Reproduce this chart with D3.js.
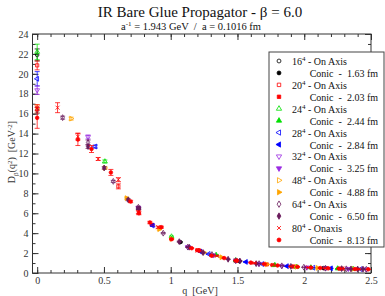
<!DOCTYPE html>
<html>
<head>
<meta charset="utf-8">
<script src="https://cdn.jsdelivr.net/npm/d3@7"></script>
<style>
  body { margin: 0; background: #fff; }
  svg { font-family: 'Liberation Serif', 'Times New Roman', serif; }
  .pre { white-space: pre; }
</style>
</head>
<body>
<svg id="chart"></svg>
<script>
// [q (GeV), D(q^2) (GeV^-2), error]
const L16axis  = [[0, 21.9, 0.6], [0.758, 6.5, 0.12], [1.487, 1.24, 0.03], [2.159, 0.48, 0.01]];
const L16conic = [[1.072, 3.1, 0.06], [1.516, 1.18, 0.03], [2.144, 0.49, 0.01]];
const L20axis  = [[0, 20.85, 0.45], [0.608, 8.7, 0.25], [1.201, 2.3, 0.05], [1.764, 0.8, 0.02], [2.284, 0.44, 0.01]];
const L20conic = [[0.86, 4.85, 0.1], [1.216, 2.25, 0.05], [1.49, 1.24, 0.03], [1.72, 0.86, 0.02], [1.92, 0.65, 0.01]];
const L24axis  = [[0, 22.2, 0.78], [0.507, 11.2, 0.15], [1.006, 3.66, 0.06], [1.487, 1.27, 0.02], [1.943, 0.62, 0.01], [2.366, 0.41, 0.01]];
const L24conic = [[1.34, 1.81, 0.03], [1.78, 0.79, 0.02], [2.05, 0.55, 0.01], [2.25, 0.45, 0.01]];
const L28axis  = [[0, 19.5, 0.72], [0.435, 12.7, 0.15], [0.865, 4.76, 0.08], [1.284, 1.91, 0.03], [1.686, 0.9, 0.02], [2.068, 0.53, 0.01], [2.423, 0.39, 0.01]];
const L28conic = [[1.223, 2.15, 0.04], [1.563, 1.11, 0.02], [1.87, 0.69, 0.01], [2.2, 0.47, 0.01]];
const L32axis  = [[0, 18.36, 0.43], [0.381, 13.66, 0.2], [0.758, 6.55, 0.1], [1.128, 2.62, 0.04], [1.487, 1.25, 0.02], [1.832, 0.72, 0.01], [2.159, 0.48, 0.01], [2.465, 0.37, 0.01]];
const L32conic = [[1.32, 1.78, 0.03], [1.66, 0.93, 0.02], [2.02, 0.56, 0.01], [2.33, 0.42, 0.01]];
const L48axis  = [[0, 16.48, 0.4], [0.254, 15.5, 0.15], [0.507, 10.55, 0.15], [1.006, 3.42, 0.06], [1.249, 2.05, 0.04], [1.719, 0.87, 0.02], [1.943, 0.62, 0.01], [2.366, 0.41, 0.01]];
const L48conic = [[0.67, 7.52, 0.1], [0.914, 4.4, 0.08], [1.38, 1.58, 0.03], [2.1, 0.51, 0.01]];
const L64axis  = [[0, 16.35, 0.3], [0.1907, 15.6, 0.15], [0.381, 13.1, 0.25], [0.570, 9.2, 0.1], [0.758, 6.6, 0.1], [0.944, 4.0, 0.06], [1.128, 2.6, 0.04], [1.309, 1.85, 0.03], [1.487, 1.24, 0.02], [1.662, 0.94, 0.02], [1.832, 0.72, 0.01], [1.997, 0.58, 0.01], [2.159, 0.48, 0.01], [2.315, 0.42, 0.01], [2.465, 0.37, 0.01]];
const L64conic = [[0.381, 12.7, 0.2], [0.502, 10.55, 0.12], [0.682, 7.35, 0.1], [0.762, 6.45, 0.1], [1.064, 3.15, 0.05], [1.139, 2.59, 0.04], [1.243, 2.05, 0.03], [1.43, 1.38, 0.02], [1.518, 1.21, 0.02], [1.64, 0.94, 0.02], [1.9, 0.66, 0.01], [2.28, 0.44, 0.01], [2.35, 0.41, 0.01], [2.4, 0.4, 0.01], [2.44, 0.39, 0.01]];
const L80axis  = [[0, 16.6, 0.3], [0.1526, 16.6, 0.5], [0.305, 13.7, 0.35], [0.457, 11.45, 0.15], [0.608, 9.37, 0.2], [0.758, 6.1, 0.15], [0.906, 4.6, 0.1], [1.201, 2.25, 0.04], [1.345, 1.72, 0.03], [1.487, 1.24, 0.02], [1.627, 1.0, 0.02], [1.764, 0.8, 0.01], [1.899, 0.66, 0.01], [2.031, 0.55, 0.01], [2.16, 0.48, 0.01], [2.285, 0.44, 0.01], [2.407, 0.39, 0.01]];
const L80conic = [[0, 15.58, 1.05], [0.305, 13.4, 0.6], [0.407, 12.45, 0.35], [0.552, 10.1, 0.3], [0.70, 7.18, 0.12], [0.762, 6.0, 0.15], [0.844, 5.07, 0.12], [0.93, 4.6, 0.1], [1.006, 3.39, 0.06], [1.157, 2.49, 0.05], [1.213, 2.25, 0.04], [1.306, 1.74, 0.03], [1.40, 1.5, 0.03], [1.494, 1.24, 0.02], [1.6, 1.04, 0.02], [1.7, 0.9, 0.02], [1.8, 0.76, 0.01], [1.95, 0.62, 0.01], [2.05, 0.54, 0.01], [2.12, 0.5, 0.01], [2.18, 0.47, 0.01], [2.26, 0.44, 0.01], [2.38, 0.4, 0.01], [2.48, 0.37, 0.01]];

const lattices = ['16', '20', '24', '28', '32', '48', '64', '80'];
const sizes = ['1.63', '2.03', '2.44', '2.84', '3.25', '4.88', '6.50', '8.13'];
const axisData = [L16axis, L20axis, L24axis, L28axis, L32axis, L48axis, L64axis, L80axis];
const conicData = [L16conic, L20conic, L24conic, L28conic, L32conic, L48conic, L64conic, L80conic];
const colors = ['#000000', '#ff0000', '#00e000', '#0000ff', '#9a2be2', '#ffa500', '#6a1b5c', '#ff0000'];
const shapes = ['circle', 'square', 'up', 'left', 'down', 'right', 'diamond', 'times'];

const xTicks = [0, 0.5, 1, 1.5, 2, 2.5];
const yTicks = [0, 2, 4, 6, 8, 10, 12, 14, 16, 18, 20, 22, 24];

const width = 385, height = 296;
const svg = d3.select('#chart').attr('width', width).attr('height', height);

const x = d3.scaleLinear().domain([-0.035, 2.5]).range([32.5, 371]);
const y = d3.scaleLinear().domain([0, 24]).range([273, 34]);

function symPath(shape, size) {
  let type = d3.symbolCircle, rot = 0;
  if (shape === 'square') type = d3.symbolSquare;
  if (shape === 'up') type = d3.symbolTriangle;
  if (shape === 'left') { type = d3.symbolTriangle; rot = -90; }
  if (shape === 'down') { type = d3.symbolTriangle; rot = 180; }
  if (shape === 'right') { type = d3.symbolTriangle; rot = 90; }
  if (shape === 'diamond') type = d3.symbolDiamond;
  if (shape === 'times') type = d3.symbolTimes;
  return { d: d3.symbol().type(type).size(size)(), rot: rot };
}

// axes (ticks inward on all four sides)
const axisColor = '#333';
const xMinor = d3.range(0, 2.501, 0.1).map(v => +v.toFixed(2));
const yMinor = d3.range(0, 24.01, 1);

function styleAxis(g) {
  g.select('.domain').remove();
  g.selectAll('line').attr('stroke', axisColor);
  g.selectAll('text').attr('fill', axisColor).attr('font-size', 10)
    .attr('font-family', "'Liberation Serif', serif");
}

svg.append('g').attr('transform', 'translate(0,273)')
  .call(d3.axisBottom(x).tickValues(xMinor).tickSize(-3).tickFormat(''))
  .call(styleAxis);
svg.append('g').attr('transform', 'translate(0,273)')
  .call(d3.axisBottom(x).tickValues(xTicks).tickSize(-6).tickPadding(4).tickFormat(d3.format('')))
  .call(styleAxis);
svg.append('g').attr('transform', 'translate(0,34)')
  .call(d3.axisTop(x).tickValues(xMinor).tickSize(-3).tickFormat(''))
  .call(styleAxis);
svg.append('g').attr('transform', 'translate(0,34)')
  .call(d3.axisTop(x).tickValues(xTicks).tickSize(-6).tickFormat(''))
  .call(styleAxis);
svg.append('g').attr('transform', 'translate(32.5,0)')
  .call(d3.axisLeft(y).tickValues(yMinor).tickSize(-3).tickFormat(''))
  .call(styleAxis);
svg.append('g').attr('transform', 'translate(32.5,0)')
  .call(d3.axisLeft(y).tickValues(yTicks).tickSize(-6).tickPadding(4).tickFormat(d3.format('')))
  .call(styleAxis);
svg.append('g').attr('transform', 'translate(371,0)')
  .call(d3.axisRight(y).tickValues(yMinor).tickSize(-3).tickFormat(''))
  .call(styleAxis);
svg.append('g').attr('transform', 'translate(371,0)')
  .call(d3.axisRight(y).tickValues(yTicks).tickSize(-6).tickFormat(''))
  .call(styleAxis);

svg.append('rect')
  .attr('x', 32.5).attr('y', 34).attr('width', 371 - 32.5).attr('height', 273 - 34)
  .attr('fill', 'none').attr('stroke', axisColor).attr('stroke-width', 1);

// data
const plot = svg.append('g');
function drawSeries(data, color, shape, open) {
  let g = plot.append('g');
  let sym = symPath(shape, shape === 'times' ? 12 : 10);
  g.selectAll('.err').data(data).enter().append('path')
    .attr('d', d => {
      let px = x(d[0]), y1 = y(d[1] + d[2]), y2 = y(d[1] - d[2]);
      return `M${px - 2.5},${y1}H${px + 2.5}M${px},${y1}V${y2}M${px - 2.5},${y2}H${px + 2.5}`;
    })
    .attr('stroke', color).attr('stroke-opacity', 0.75).attr('stroke-width', 1).attr('fill', 'none');
  g.selectAll('.pt').data(data).enter().append('path')
    .attr('d', sym.d)
    .attr('transform', d => `translate(${x(d[0])},${y(d[1])}) rotate(${sym.rot})`)
    .attr('fill', open && shape !== 'times' ? 'none' : color)
    .attr('stroke', color).attr('stroke-width', 0.8);
}
lattices.forEach((l, i) => {
  drawSeries(axisData[i], colors[i], shapes[i], true);
  drawSeries(conicData[i], colors[i], i === 7 ? 'circle' : shapes[i], false);
});

// titles
svg.append('text').attr('x', 200).attr('y', 17).attr('text-anchor', 'middle')
  .attr('font-size', 15).attr('fill', '#111').text('IR Bare Glue Propagator - β = 6.0');
let sub = svg.append('text').attr('class', 'pre').attr('x', 191).attr('y', 29.5).attr('text-anchor', 'middle')
  .attr('font-size', 10.5).attr('fill', '#111');
sub.append('tspan').text('a');
sub.append('tspan').attr('dy', -4).attr('font-size', 7).text('-1');
sub.append('tspan').attr('dy', 4).text(' = 1.943 GeV  /  a = 0.1016 fm');

svg.append('text').attr('class', 'pre').attr('x', 200).attr('y', 294).attr('text-anchor', 'middle')
  .attr('font-size', 10).attr('fill', axisColor).text('q  [GeV]');

let yl = svg.append('text').attr('class', 'pre').attr('transform', 'translate(15,152) rotate(-90)')
  .attr('text-anchor', 'middle').attr('font-size', 10).attr('fill', axisColor);
yl.append('tspan').text('D');
yl.append('tspan').attr('dy', 2.5).attr('font-size', 7).text('β');
yl.append('tspan').attr('dy', -2.5).text('(q');
yl.append('tspan').attr('dy', -3.5).attr('font-size', 7).text('2');
yl.append('tspan').attr('dy', 3.5).text(')  [GeV');
yl.append('tspan').attr('dy', -3.5).attr('font-size', 7).text('-2');
yl.append('tspan').attr('dy', 3.5).text(']');

// legend
const leg = svg.append('g');
leg.append('rect').attr('x', 269).attr('y', 52).attr('width', 115).attr('height', 195)
  .attr('fill', '#fff').attr('stroke', '#444').attr('stroke-width', 1);
const y0 = 61, step = 11.93;
lattices.forEach((l, i) => {
  let ya = y0 + step * 2 * i, yc = ya + step;
  let sa = symPath(shapes[i], 12);
  leg.append('path').attr('d', sa.d)
    .attr('transform', `translate(279,${ya}) rotate(${sa.rot})`)
    .attr('fill', shapes[i] === 'times' ? colors[i] : 'none')
    .attr('stroke', colors[i]).attr('stroke-width', 0.8);
  let sc = symPath(i === 7 ? 'circle' : shapes[i], 12);
  leg.append('path').attr('d', sc.d)
    .attr('transform', `translate(279,${yc}) rotate(${sc.rot})`)
    .attr('fill', colors[i]).attr('stroke', colors[i]).attr('stroke-width', 0.8);
  let t = leg.append('text').attr('class', 'pre').attr('x', 292).attr('y', ya + 4)
    .attr('font-size', 10).attr('fill', '#111');
  t.append('tspan').text(l);
  t.append('tspan').attr('dy', -4).attr('font-size', 7).text('4');
  t.append('tspan').attr('dy', 4).text(i === 7 ? ' - Onaxis' : ' - On Axis');
  leg.append('text').attr('class', 'pre').attr('x', 378).attr('y', yc + 4)
    .attr('text-anchor', 'end').attr('font-size', 10).attr('fill', '#111')
    .text('Conic  -  ' + sizes[i] + ' fm');
});
</script>
</body>
</html>
